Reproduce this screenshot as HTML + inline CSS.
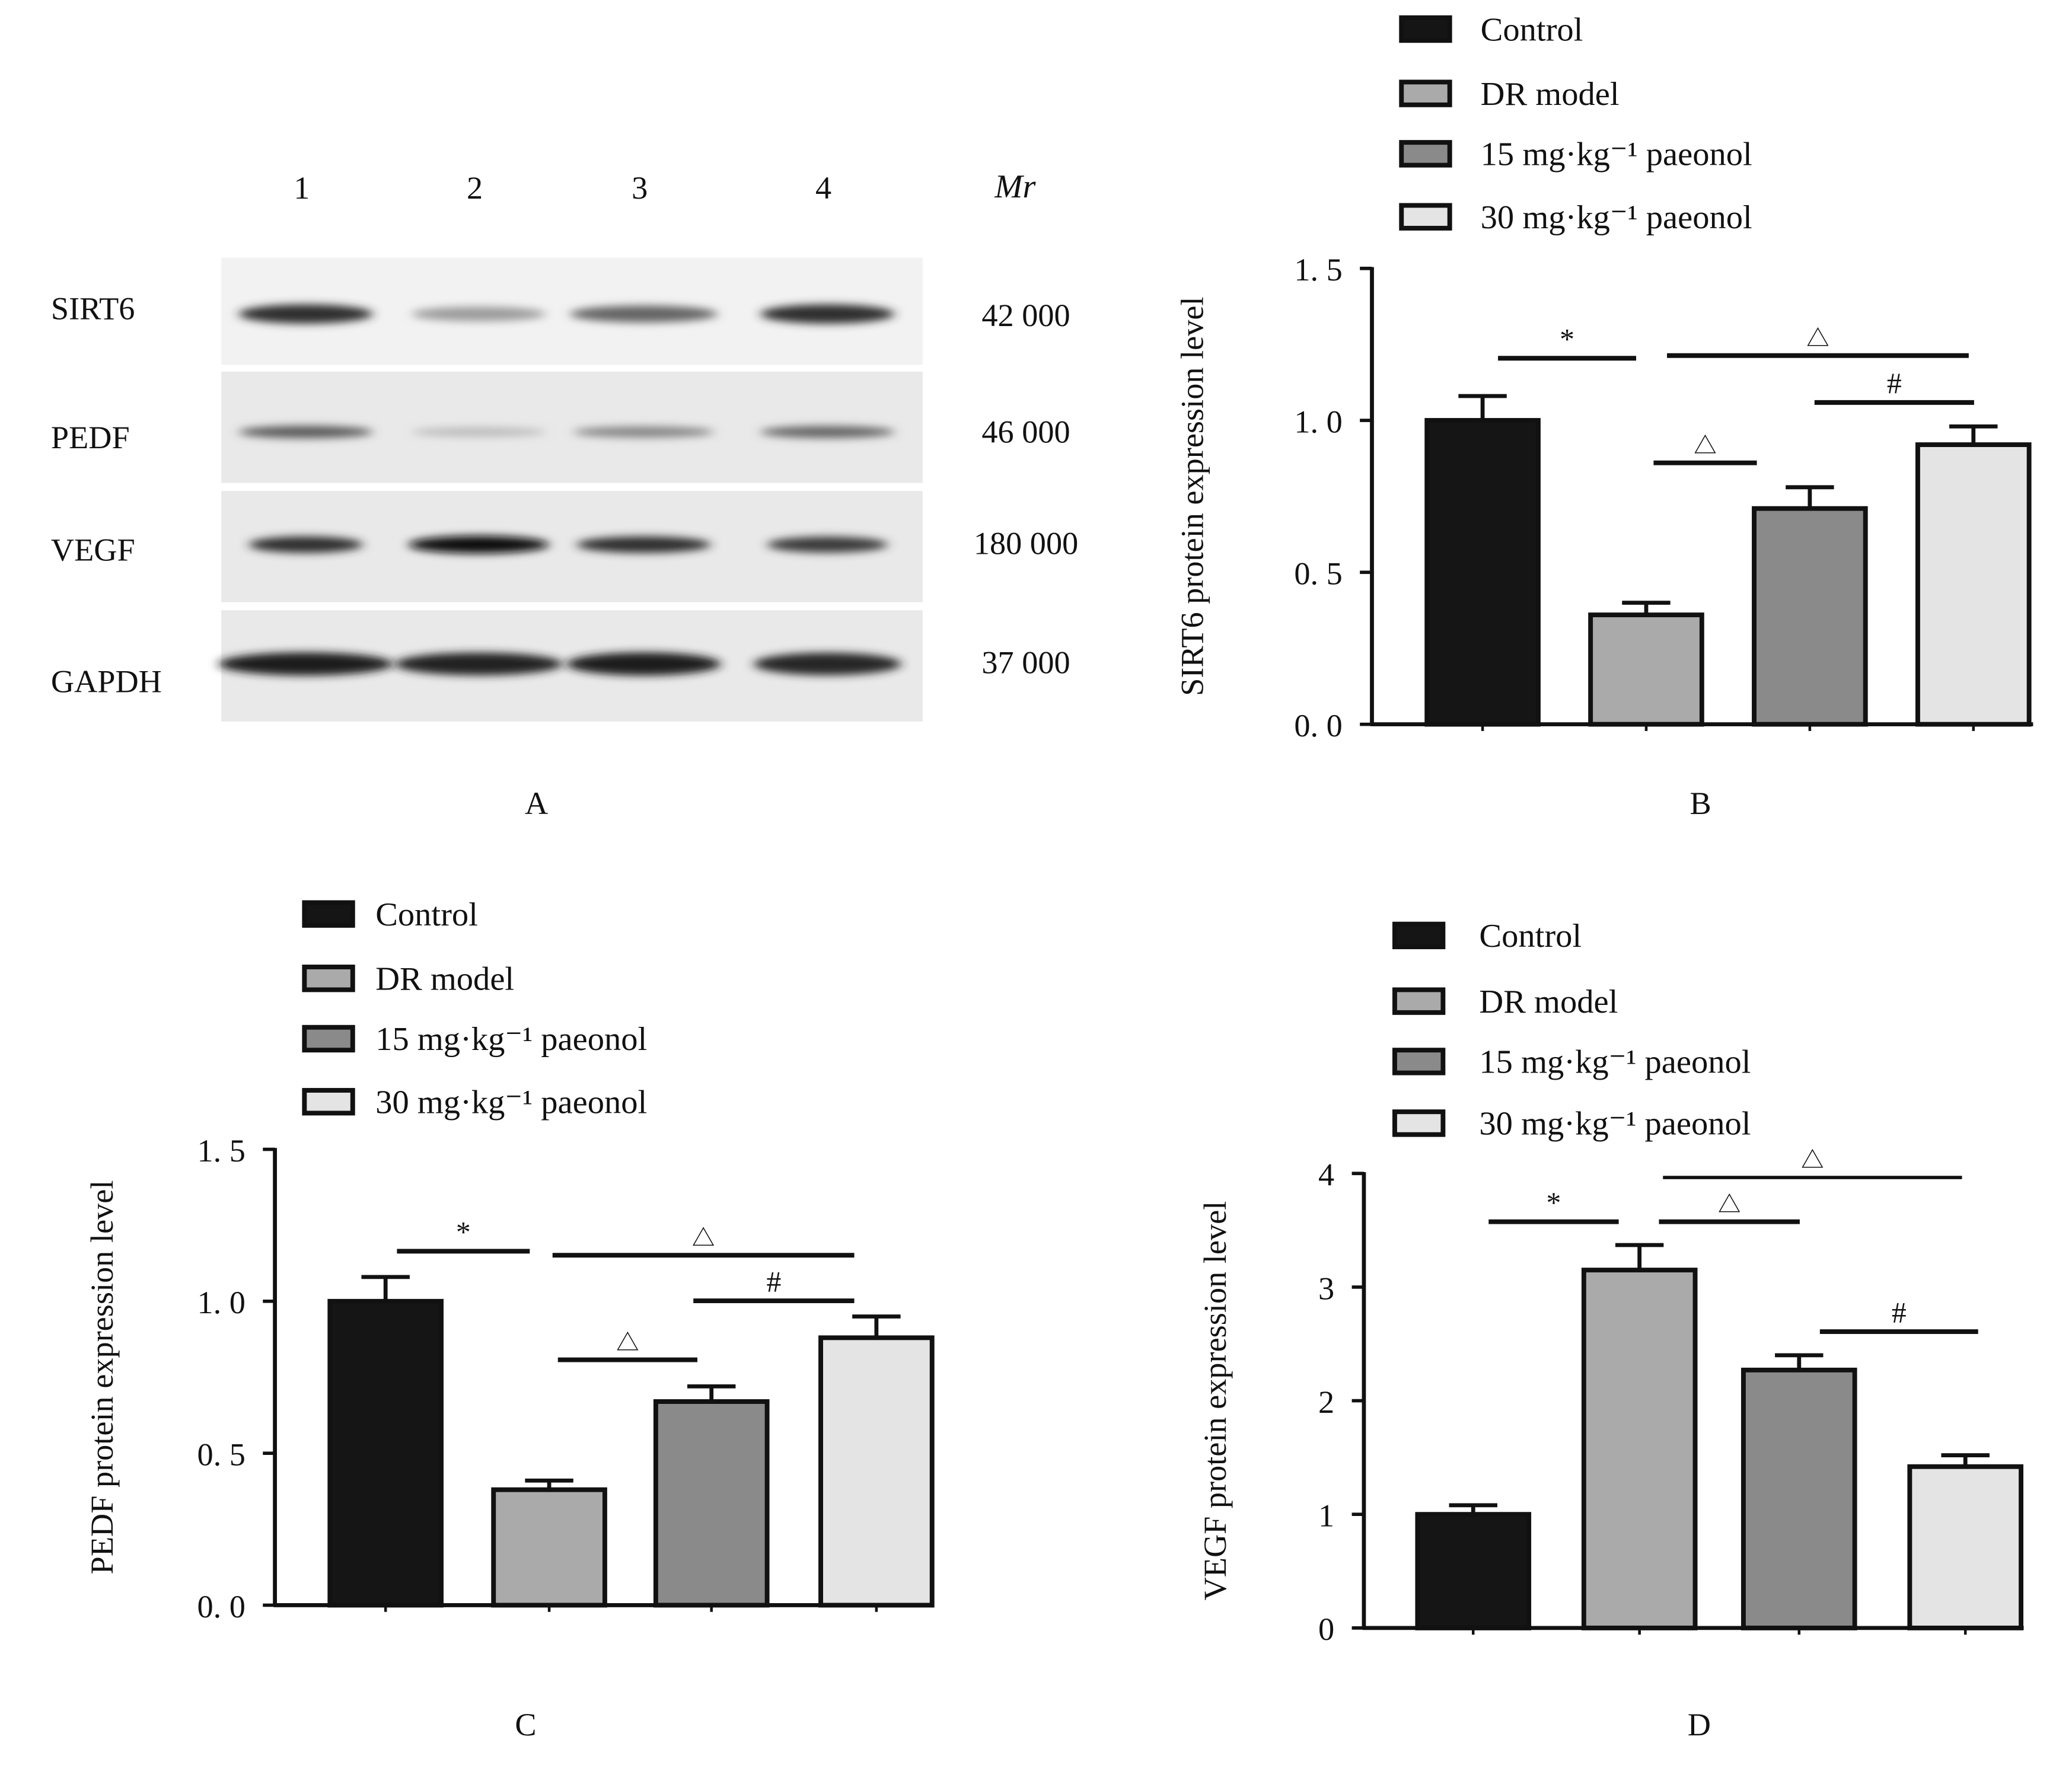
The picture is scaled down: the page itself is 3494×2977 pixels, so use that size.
<!DOCTYPE html>
<html><head><meta charset="utf-8"><style>
html,body{margin:0;padding:0;background:#fff}
svg{display:block}
text{font-family:"Liberation Serif","Noto Serif CJK SC",serif;fill:#111}
</style></head><body>
<svg id="fig" width="3494" height="2977" viewBox="0 0 1545 1316" xmlns="http://www.w3.org/2000/svg">
<defs>
<filter id="blur" x="-20%" y="-200%" width="140%" height="500%"><feGaussianBlur stdDeviation="4 3"/></filter>
</defs>
<g id="panelA"></g>
<g id="panelB"></g>
<g id="panelC"></g>
<g id="panelD"></g>
<text x="400" y="607" font-size="24" text-anchor="middle">A</text>
<text x="1268" y="607" font-size="24" text-anchor="middle">B</text>
<text x="392" y="1294" font-size="24" text-anchor="middle">C</text>
<text x="1267" y="1294" font-size="24" text-anchor="middle">D</text>
</svg>
<script>
const NS="http://www.w3.org/2000/svg";
const groups=["Control","DR model","15 mg\u00b7kg\u207b\u00b9 paeonol","30 mg\u00b7kg\u207b\u00b9 paeonol"];
const sirt6Values=[1.0,0.36,0.71,0.92];
const sirt6Errors=[0.08,0.04,0.07,0.06];
const pedfValues=[1.0,0.38,0.67,0.88];
const pedfErrors=[0.08,0.03,0.05,0.07];
const vegfValues=[1.0,3.15,2.27,1.42];
const vegfErrors=[0.08,0.22,0.13,0.1];
const ticksB=[0,0.5,1.0,1.5];
const tickLabelsB=["0. 0","0. 5","1. 0","1. 5"];
const ticksD=[0,1,2,3,4];
const tickLabelsD=["0","1","2","3","4"];
const blotProteins=["SIRT6","PEDF","VEGF","GAPDH"];
const blotMr=["42  000","46  000","180  000","37  000"];
const blotIntensity=[[0.85,0.35,0.6,0.85],[0.65,0.2,0.45,0.6],[0.85,1.0,0.85,0.8],[0.95,0.92,0.95,0.9]];
const fills=["#151515","#aaaaaa","#8a8a8a","#e4e4e4"];

function el(tag,attrs,parent){const e=document.createElementNS(NS,tag);for(const k in attrs)e.setAttribute(k,attrs[k]);parent.appendChild(e);return e;}
function txt(s,attrs,parent){const t=el("text",attrs,parent);t.textContent=s;return t;}

(function(){
 const g=document.getElementById("panelA");
 const lanesX=[228,357,480,617];
 ["1","2","3","4"].forEach((l,i)=>{const t=txt(l,{x:lanesX[i]-3,y:148,"font-size":24,"text-anchor":"middle"},g);
 });
 const mr=txt("Mr",{x:757,y:147,"font-size":25,"font-style":"italic","text-anchor":"middle"},g);
 
 const strips=[[192,272],[277,360],[366,449],[455,538]];
 const bandY=[234,322,406,495];
 const bandW=[[100,100,110,100],[100,100,105,100],[85,105,100,90],[130,125,115,110]];
 const bandH=[14,10,12,16];
 const labelY=[238,334,418,516];
 const mrY=[243,330,413,502];
 strips.forEach((s,r)=>{
  const rect=el("rect",{x:165,y:s[0],width:523,height:s[1]-s[0],fill:r==0?"#f2f2f2":"#e9e9e9"},g);
  
  lanesX.forEach((x,i)=>{const v=blotIntensity[r][i];const c=Math.round(230-215*v);
   const b=el("ellipse",{cx:x,cy:bandY[r],rx:bandW[r][i]/2,ry:bandH[r]/2*(0.6+0.5*v),fill:`rgb(${c},${c},${c})`,filter:"url(#blur)"},g);
   });
  const pl=txt(blotProteins[r],{x:38,y:labelY[r],"font-size":24},g);
  
  const m=txt(blotMr[r],{x:765,y:mrY[r],"font-size":24,"text-anchor":"middle","xml:space":"preserve"},g);
  
 });
})();

function chart(g,cfg){
 const {ax,y0,yTop,vmax,xEnd,bars,barW,vals,errs,ticks,tickLabels,ylabel,ylx,legX,legY,textX,sig}=cfg;
 const ys=v=>y0-(v/vmax)*(y0-yTop);
 groups.forEach((name,i)=>{
  const r=el("rect",{x:legX+2,y:legY[i]+2,width:36,height:17,fill:fills[i],stroke:"#111","stroke-width":3.5},g);
  
  const t=txt(name,{x:textX,y:legY[i]+19,"font-size":25},g);
  
 });
 vals.forEach((v,i)=>{
  const x=bars[i];const yt=ys(v);const ye=ys(v+errs[i]);const cx=x+barW/2;
  const ln=el("line",{x1:cx,y1:yt,x2:cx,y2:ye,stroke:"#111","stroke-width":3},g);
  
  const cap=el("line",{x1:cx-18,y1:ye,x2:cx+18,y2:ye,stroke:"#111","stroke-width":3},g);
  
  const b=el("rect",{x:x,y:yt,width:barW,height:y0-yt,fill:fills[i],stroke:"#111","stroke-width":3.5},g);
  
  const tk=el("line",{x1:cx,y1:y0,x2:cx,y2:y0+5,stroke:"#111","stroke-width":2},g);
  
 });
 const ya=el("line",{x1:ax,y1:yTop-1,x2:ax,y2:y0+1,stroke:"#111","stroke-width":3},g);
 
 const xa=el("line",{x1:ax-1,y1:y0,x2:xEnd,y2:y0,stroke:"#111","stroke-width":3},g);
 
 ticks.forEach((v,i)=>{const y=ys(v);
  const tl=el("line",{x1:ax-9,y1:y,x2:ax,y2:y,stroke:"#111","stroke-width":2.5},g);
  
  const t=txt(tickLabels[i],{x:ax-22,y:y+9,"font-size":24,"text-anchor":"end","xml:space":"preserve"},g);
  });
 const yl=txt(ylabel,{x:0,y:0,"font-size":24,"text-anchor":"middle",transform:`translate(${ylx},${(y0+yTop)/2}) rotate(-90)`},g);
 
 sig.forEach(s=>{
  const l=el("line",{x1:s[0],y1:s[2],x2:s[1],y2:s[2],stroke:"#111","stroke-width":s[4]||3.5},g);
  
  const t=txt(s[3],{x:(s[0]+s[1])/2,y:s[2]-7,"font-size":s[3]=="\u25b3"?17:22,"text-anchor":"middle"},g);
  
 });
}

chart(document.getElementById("panelB"),{ax:1023,y0:540,yTop:200,vmax:1.5,xEnd:1516,bars:[1064,1186,1308,1430],barW:83,
 vals:sirt6Values,errs:sirt6Errors,ticks:ticksB,tickLabels:tickLabelsB,ylabel:"SIRT6 protein expression level",ylx:897,
 legX:1043,legY:[11,59,104,151],textX:1104,
 sig:[[1117,1220,267,"*"],[1243,1468,265,"\u25b3"],[1353,1472,300,"#"],[1233,1310,345,"\u25b3"]]});
chart(document.getElementById("panelC"),{ax:205,y0:1197,yTop:857,vmax:1.5,xEnd:696,bars:[246,368,489,612],barW:83,
 vals:pedfValues,errs:pedfErrors,ticks:ticksB,tickLabels:tickLabelsB,ylabel:"PEDF protein expression level",ylx:84,
 legX:225,legY:[671,719,764,811],textX:280,
 sig:[[296,395,933,"*"],[412,637,936,"\u25b3"],[517,637,970,"#"],[416,520,1014,"\u25b3"]]});
chart(document.getElementById("panelD"),{ax:1017,y0:1214,yTop:875,vmax:4,xEnd:1509,bars:[1057,1181,1300,1424],barW:83,
 vals:vegfValues,errs:vegfErrors,ticks:ticksD,tickLabels:tickLabelsD,ylabel:"VEGF protein expression level",ylx:914,
 legX:1038,legY:[687,736,781,827],textX:1103,
 sig:[[1110,1207,911,"*"],[1237,1342,911,"\u25b3"],[1240,1463,878,"\u25b3",2.5],[1357,1475,993,"#"]]});
</script>
</body></html>
